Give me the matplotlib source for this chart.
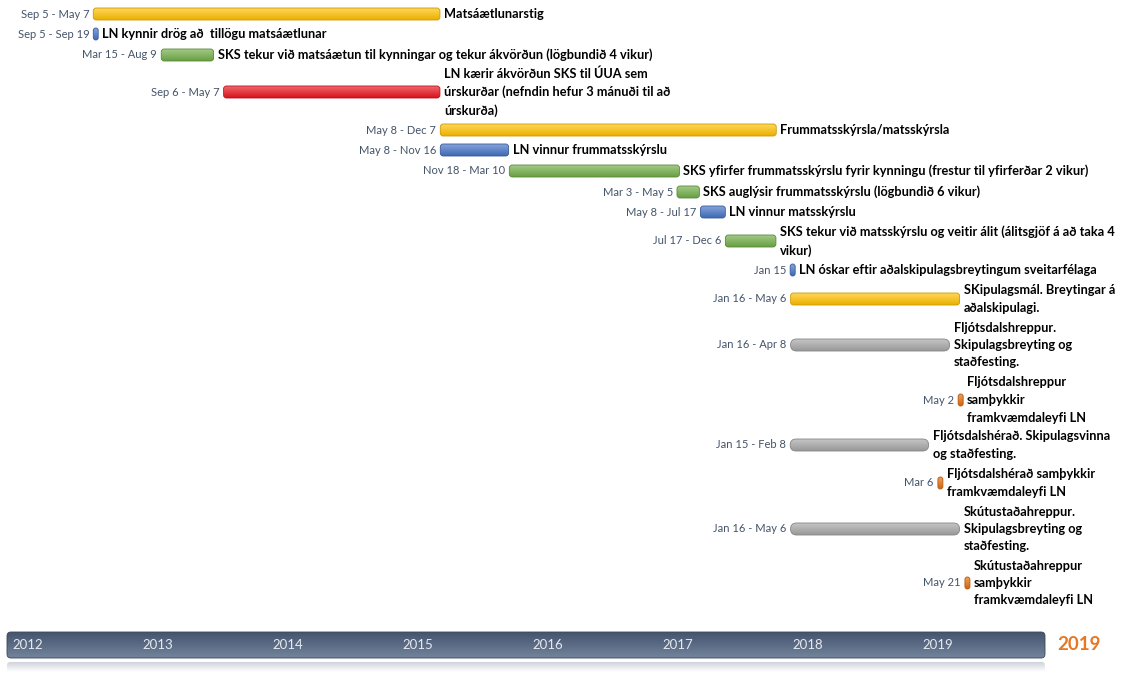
import datetime as dt
import numpy as np
import matplotlib
matplotlib.use("Agg")
import matplotlib.pyplot as plt
import matplotlib.dates as mdates
from matplotlib.patches import FancyBboxPatch
from matplotlib.colors import to_rgb

start_dates = ["2012-09-05", "2012-09-05", "2013-03-15", "2013-09-06", "2015-05-08",
               "2015-05-08", "2015-11-18", "2017-03-03", "2017-05-08", "2017-07-17",
               "2018-01-15", "2018-01-16", "2018-01-16", "2019-05-02", "2018-01-15",
               "2019-03-06", "2018-01-16", "2019-05-21"]
end_dates = ["2015-05-07", "2012-09-19", "2013-08-09", "2015-05-07", "2017-12-07",
             "2015-11-16", "2017-03-10", "2017-05-05", "2017-07-17", "2017-12-06",
             "2018-01-15", "2019-05-06", "2019-04-08", "2019-05-02", "2019-02-08",
             "2019-03-06", "2019-05-06", "2019-05-21"]
date_labels = ["Sep 5 - May 7", "Sep 5 - Sep 19", "Mar 15 - Aug 9", "Sep 6 - May 7",
               "May 8 - Dec 7", "May 8 - Nov 16", "Nov 18 - Mar 10", "Mar 3 - May 5",
               "May 8 - Jul 17", "Jul 17 - Dec 6", "Jan 15", "Jan 16 - May 6",
               "Jan 16 - Apr 8", "May 2", "Jan 15 - Feb 8", "Mar 6", "Jan 16 - May 6",
               "May 21"]
task_labels = [
    "Matsáætlunarstig",
    "LN kynnir drög að  tillögu matsáætlunar",
    "SKS tekur við matsáætun til kynningar og tekur ákvörðun (lögbundið 4 vikur)",
    "LN kærir ákvörðun SKS til ÚUA sem\núrskurðar (nefndin hefur 3 mánuði til að\núrskurða)",
    "Frummatsskýrsla/matsskýrsla",
    "LN vinnur frummatsskýrslu",
    "SKS yfirfer frummatsskýrslu fyrir kynningu (frestur til yfirferðar 2 vikur)",
    "SKS auglýsir frummatsskýrslu (lögbundið 6 vikur)",
    "LN vinnur matsskýrslu",
    "SKS tekur við matsskýrslu og veitir álit (álitsgjöf á að taka 4\nvikur)",
    "LN óskar eftir aðalskipulagsbreytingum sveitarfélaga",
    "SKipulagsmál. Breytingar á\naðalskipulagi.",
    "Fljótsdalshreppur.\nSkipulagsbreyting og\nstaðfesting.",
    "Fljótsdalshreppur\nsamþykkir\nframkvæmdaleyfi LN",
    "Fljótsdalshérað. Skipulagsvinna\nog staðfesting.",
    "Fljótsdalshérað samþykkir\nframkvæmdaleyfi LN",
    "Skútustaðahreppur.\nSkipulagsbreyting og\nstaðfesting.",
    "Skútustaðahreppur\nsamþykkir\nframkvæmdaleyfi LN",
]
task_kind = ["yellow", "blue", "green", "red", "yellow", "blue", "green", "green", "blue",
             "green", "blue", "yellow", "gray", "orange", "gray", "orange", "gray", "orange"]
years = list(range(2012, 2020))
current_year = "2019"

# --- layout / style ---
row_y = [14, 34, 55, 92, 130, 150, 171, 192, 212, 241, 270, 299, 345, 400, 445, 483, 529, 583]
palette = {"yellow": "#FFC000", "blue": "#4472C4", "green": "#70AD47", "red": "#E8141E",
           "gray": "#A6A6A6", "orange": "#E46C0A"}
W, H = 1126, 673
x_left_px, px_per_year = 5, 130.0
bar_h = 12

fig = plt.figure(figsize=(W / 100, H / 100), dpi=100)
ax = fig.add_axes([0, 0, 1, 1])
ax.set_axis_off()

t0 = mdates.date2num(dt.datetime(2012, 1, 1))
t1 = mdates.date2num(dt.datetime(2020, 1, 1))
dpp = (t1 - t0) / (8 * px_per_year)  # days per pixel
ax.set_xlim(t0 - x_left_px * dpp, t0 + (W - x_left_px) * dpp)
ax.set_ylim(H, 0)

lab_font = ["Lato", "DejaVu Sans"]


def shade(c, f):
    r = np.array(to_rgb(c))
    return tuple(np.clip(r + (1 - r) * f, 0, 1)) if f > 0 else tuple(r * (1 + f))


def gradient_box(x0, y0, w, h, top, bottom, radius, edge=None, zorder=2):
    r = min(radius, w / 2 / dpp if w > 0 else 0, h / 2)
    box = FancyBboxPatch((x0, y0), w, h,
                         boxstyle=f"round,pad=0,rounding_size={r * dpp}",
                         mutation_aspect=1 / dpp, facecolor="none",
                         edgecolor=edge if edge else "none", lw=0.6, zorder=zorder + 1)
    ax.add_patch(box)
    n = 32
    t = np.linspace(0, 1, n)[:, None]
    cols = np.array(top)[None, :] * (1 - t) + np.array(bottom)[None, :] * t
    img = ax.imshow(cols[:, None, :], extent=[x0, x0 + w, y0 + h, y0], aspect="auto",
                    interpolation="bilinear", zorder=zorder)
    img.set_clip_path(box)
    return box


for s, e, dl, tl, k, y in zip(start_dates, end_dates, date_labels, task_labels, task_kind, row_y):
    xs = mdates.date2num(dt.datetime.fromisoformat(s))
    xe = mdates.date2num(dt.datetime.fromisoformat(e))
    w = max(xe - xs, 5 * dpp)
    base = palette[k]
    rad = 6 if k == "gray" else 3
    gradient_box(xs, y - bar_h / 2, w, bar_h, shade(base, 0.35), shade(base, -0.08), rad,
                 edge=shade(base, -0.2))
    ax.text(xs - 4 * dpp, y, dl, ha="right", va="center", fontsize=8,
            color="#44546A", family=lab_font)
    ax.text(xs + w + 4 * dpp, y, tl, ha="left", va="center", fontsize=9.2,
            fontweight="bold", color="black", family=lab_font, linespacing=1.55)

# time axis band
y_band, h_band = 632, 26
band_x0 = t0 + 2 * dpp
gradient_box(band_x0, y_band, t1 - band_x0, h_band, to_rgb("#46556F"), to_rgb("#72839C"), 4,
             edge="#3A465A", zorder=2)
gradient_box(band_x0, y_band + h_band + 4, t1 - band_x0, 10, to_rgb("#CFD4DC"),
             to_rgb("#FFFFFF"), 3, zorder=2)
for yr in years:
    xy = mdates.date2num(dt.datetime(yr, 1, 1))
    ax.text(xy + 7 * dpp, y_band + h_band / 2, str(yr), ha="left", va="center",
            fontsize=9.5, color="#E6EAF0", family=lab_font, zorder=5)
ax.text(t1 + 12 * dpp, y_band + h_band / 2, current_year, ha="left", va="center",
        fontsize=13.5, fontweight="bold", color="#E87722", family=lab_font, zorder=5)

fig.savefig("out.png", dpi=100)
